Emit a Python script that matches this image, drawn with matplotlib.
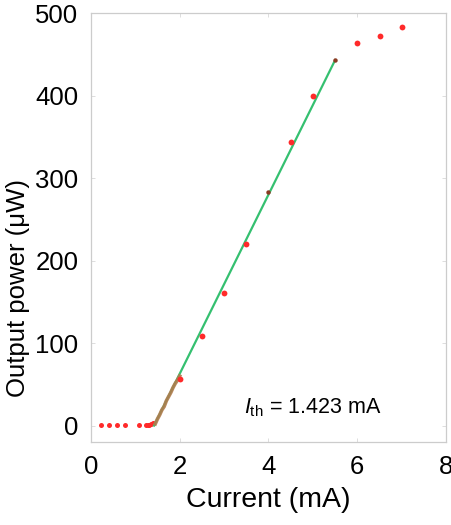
"""
L-I curve with threshold fit
"""

import matplotlib
matplotlib.use('Agg')
import matplotlib.pyplot as plt

plt.rcParams['font.family'] = ['Liberation Sans', 'DejaVu Sans']
plt.rcParams['mathtext.fontset'] = 'custom'
plt.rcParams['mathtext.rm'] = 'Liberation Sans'
plt.rcParams['mathtext.it'] = 'Liberation Sans:italic'

# below threshold (red)
low_current = [0.22, 0.41, 0.60, 0.77, 1.08, 1.24, 1.28, 1.32, 1.36, 1.40]
low_power = [1, 1, 1, 1, 1, 1, 1, 1, 2, 3]

# dense sweep just above threshold (brown)
sweep_current = [1.45, 1.50, 1.55, 1.60, 1.65, 1.70, 1.75, 1.80, 1.85, 1.90, 1.95, 2.00]
sweep_power = [2, 8, 13, 19, 23, 30, 35, 40, 46, 51, 55, 60]

# coarse points (red)
meas_current = [2.0, 2.5, 3.0, 3.5, 4.5, 5.0, 6.0, 6.5, 7.0]
meas_power = [57, 109, 161, 220, 344, 400, 464, 472, 483]

# points lying on the fit (dark)
on_fit_current = [4.0, 5.5]
on_fit_power = [283, 443]

# linear fit
fit_current = [1.423, 5.5]
fit_power = [0, 443]
i_th = 1.423

fig = plt.figure(figsize=(4.52, 5.25), dpi=100)
ax = fig.add_axes([0.201, 0.158, 0.786, 0.817])

ax.plot(low_current, low_power, 'o', color='#ff2a2a', markersize=3.6, markeredgewidth=0)
ax.plot(fit_current, fit_power, '-', color='#35c070', linewidth=1.6)
ax.plot(sweep_current, sweep_power, '-', color='#b07a4c', linewidth=2.6, alpha=0.9, zorder=3)
ax.plot(meas_current, meas_power, 'o', color='#ff2a2a', markersize=4.2, markeredgewidth=0, zorder=4)
ax.plot(on_fit_current, on_fit_power, 'o', color='#8a3a22', markersize=3.2, markeredgewidth=0, zorder=4)

ax.text(3.45, 22, r'$\mathit{I}_{\mathrm{th}}$' + f' = {i_th:.3f} mA', fontsize=15.5,
        va='center', ha='left')

ax.set_xlim(0, 8)
ax.set_ylim(-20, 500)
ax.set_xticks([0, 2, 4, 6, 8])
ax.set_yticks([0, 100, 200, 300, 400, 500])
ax.tick_params(direction='in', length=3, width=0.6, color='#d8d8d8',
               top=True, right=True, labelsize=18.5, pad=9)
for s in ax.spines.values():
    s.set_color('#cccccc')
    s.set_linewidth(0.9)

ax.set_xlabel('Current (mA)', fontsize=20.5, labelpad=6)
ax.set_ylabel('Output power (μW)', fontsize=18.5)
ax.yaxis.set_label_coords(-0.17, 0.36)

plt.savefig('out.png', dpi=100)
plt.close()
